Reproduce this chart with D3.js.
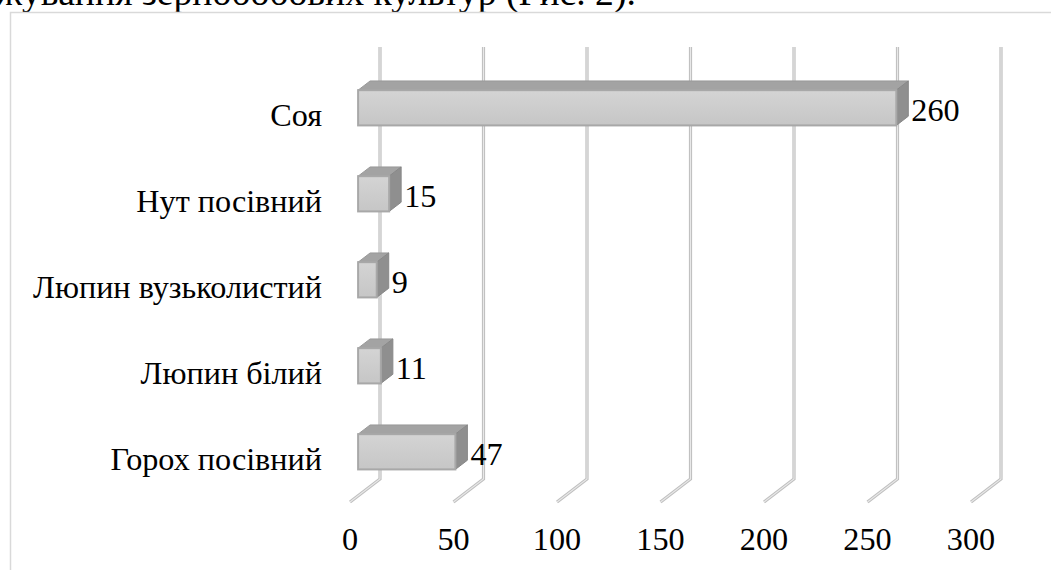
<!DOCTYPE html>
<html>
<head>
<meta charset="utf-8">
<script src="https://cdn.jsdelivr.net/npm/d3@7"></script>
<style>
  body { margin: 0; background: #fff; }
</style>
</head>
<body>
<div id="container"></div>
<script>
// data
const categories = ["Соя", "Нут посівний", "Люпин вузьколистий", "Люпин білий", "Горох посівний"]
const values = [260, 15, 9, 11, 47]
const ticks = [0, 50, 100, 150, 200, 250, 300]
const caption = "жування зернобобових культур (Рис. 2)."

const width = 1051, height = 570
const font = "'Liberation Serif', Tinos, 'Times New Roman', Times, 'DejaVu Serif', 'Noto Serif', FreeSerif, 'Nimbus Roman', serif"

// 3d depth offsets (back wall vs front plane)
const depthX = 30, depthY = -23
const t1 = 0.27, t2 = 0.67   // bar front / back depth fraction

const svg = d3.select("#container").append("svg")
  .attr("width", width)
  .attr("height", height)
  .style("display", "block")
  .attr("font-family", font)

// pick a font size so a sample text gets the width seen in the picture
function fitSize(str, target) {
  const t = svg.append("text").attr("font-size", 100).text(str)
  const w = t.node().getComputedTextLength()
  t.remove()
  return 100 * target / w
}
const fs = fitSize("Люпин вузьколистий", 289)
const capFs = fitSize(caption, 640)

const defs = svg.append("defs")
const grad = defs.append("linearGradient")
  .attr("id", "face").attr("x1", 0).attr("y1", 0).attr("x2", 0).attr("y2", 1)
grad.append("stop").attr("offset", "0%").attr("stop-color", "#d4d4d4")
grad.append("stop").attr("offset", "100%").attr("stop-color", "#c6c6c6")

// caption text (cut off by the top of the page)
svg.append("text")
  .attr("x", -4).attr("y", 5)
  .attr("font-size", capFs)
  .attr("fill", "#000")
  .text(caption)

// chart border
svg.append("path")
  .attr("d", `M10.5,${height} L10.5,12.5 L${width},12.5`)
  .attr("fill", "none")
  .attr("stroke", "#d9d9d9")
  .attr("stroke-width", 1.5)

const x = d3.scaleLinear().domain([0, 300]).range([350, 971])
const y = d3.scaleBand().domain(categories).range([71, 501]).paddingInner(0.59).paddingOuter(0.295)
const floorY = 502

// gridlines on back wall + floor diagonals
const grid = svg.append("g")
ticks.forEach(t => {
  const fx = x(t), bx = x(t) + depthX, by = floorY + depthY
  const d = `M${bx},47 L${bx},${by} L${fx},${floorY}`
  grid.append("path").attr("d", d).attr("fill", "none")
    .attr("stroke", "#bfbfbf").attr("stroke-width", 3.2)
  grid.append("path").attr("d", d).attr("fill", "none")
    .attr("stroke", "#e8e8e8").attr("stroke-width", 1.1)
})

// tick labels
svg.append("g").selectAll("text")
  .data(ticks)
  .join("text")
  .attr("x", d => x(d))
  .attr("y", 539)
  .attr("text-anchor", "middle")
  .attr("dominant-baseline", "central")
  .attr("font-size", fs)
  .text(d => d)

// category labels
svg.append("g").selectAll("text")
  .data(categories)
  .join("text")
  .attr("x", 322)
  .attr("y", d => y(d) + y.bandwidth() / 2 + 1)
  .attr("text-anchor", "end")
  .attr("dominant-baseline", "central")
  .attr("font-size", fs)
  .text(d => d)

// bars
const bars = svg.append("g").selectAll("g")
  .data(categories.map((c, i) => ({ c, v: values[i] })))
  .join("g")

const ox1 = depthX * t1, oy1 = depthY * t1
const ox2 = depthX * t2, oy2 = depthY * t2

bars.each(function (d) {
  const g = d3.select(this)
  const x0 = x(0) + ox1, x1 = x(d.v) + ox1
  const yt = y(d.c) + oy1, yb = y(d.c) + y.bandwidth() + oy1
  const dx = ox2 - ox1, dy = oy2 - oy1
  // top face
  g.append("path")
    .attr("d", `M${x0},${yt} L${x0 + dx},${yt + dy} L${x1 + dx},${yt + dy} L${x1},${yt} Z`)
    .attr("fill", "#a3a3a3").attr("stroke", "#999").attr("stroke-width", 1)
  // side face
  g.append("path")
    .attr("d", `M${x1},${yt} L${x1 + dx},${yt + dy} L${x1 + dx},${yb + dy} L${x1},${yb} Z`)
    .attr("fill", "#8f8f8f").attr("stroke", "#888").attr("stroke-width", 1)
  // front face
  g.append("rect")
    .attr("x", x0).attr("y", yt)
    .attr("width", x1 - x0).attr("height", yb - yt)
    .attr("fill", "url(#face)")
    .attr("stroke", "#a8a8a8").attr("stroke-width", 2)
  // value label
  g.append("text")
    .attr("x", x1 + dx + 3)
    .attr("y", (yt + yb) / 2 + 2)
    .attr("dominant-baseline", "central")
    .attr("font-size", fs)
    .text(d.v)
})
</script>
</body>
</html>
